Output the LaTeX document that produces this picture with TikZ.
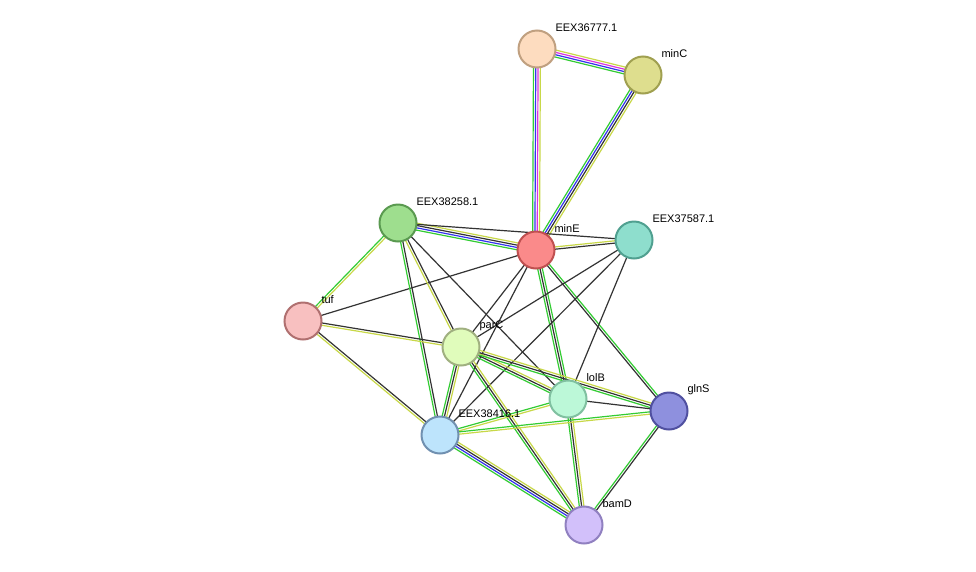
\documentclass[tikz,border=0pt]{standalone}
\usepackage{fontspec}
\setmainfont{Liberation Sans}
\usetikzlibrary{calc}
\definecolor{gn}{HTML}{33CC33}
\definecolor{bl}{HTML}{3333EE}
\definecolor{mg}{HTML}{DD33DD}
\definecolor{yl}{HTML}{C8D848}
\definecolor{bk}{HTML}{333333}
\newcommand\medge[4]{%
  \foreach \c [count=\i] in {#4} {%
    \pgfmathsetmacro\off{(\i-(#3+1)/2)*2.3}%
    \draw[\c, line width=1.2pt] ($(#1)!\off pt!90:(#2)$) -- ($(#2)!\off pt!-90:(#1)$);
  }}
\tikzset{prot/.style={circle, minimum size=37pt, inner sep=0pt, line width=2pt},
 lab/.style={anchor=west, font=\fontsize{11}{13}\selectfont}}
\begin{document}
\begin{tikzpicture}[x=1pt,y=-1pt]
\useasboundingbox (0,0) rectangle (976,571);
\fill[white] (0,0) rectangle (976,571);
\coordinate (A) at (537,49);
\coordinate (C) at (643,75);
\coordinate (S) at (398,223);
\coordinate (E) at (536,250);
\coordinate (P) at (634,240);
\coordinate (T) at (303,321);
\coordinate (R) at (461,347);
\coordinate (L) at (568,399);
\coordinate (G) at (669,411);
\coordinate (X) at (440,435);
\coordinate (B) at (584,525);
\medge{A}{C}{4}{gn,bl,mg,yl}
\medge{A}{E}{4}{gn,bl,mg,yl}
\medge{C}{E}{4}{gn,bl,bk,yl}
\medge{S}{E}{4}{gn,bl,bk,yl}
\medge{S}{P}{1}{bk}
\medge{E}{P}{2}{bk,yl}
\medge{S}{T}{2}{gn,yl}
\medge{E}{T}{1}{bk}
\medge{S}{R}{2}{yl,bk}
\medge{S}{L}{1}{bk}
\medge{S}{X}{2}{gn,bk}
\medge{E}{R}{1}{bk}
\medge{E}{L}{3}{gn,bk,gn}
\medge{E}{G}{2}{bk,gn}
\medge{E}{X}{1}{bk}
\medge{P}{R}{1}{bk}
\medge{P}{L}{1}{bk}
\medge{P}{X}{1}{bk}
\medge{T}{R}{2}{yl,bk}
\medge{T}{X}{2}{yl,bk}
\medge{R}{L}{3}{gn,bk,yl}
\medge{R}{G}{3}{gn,bk,yl}
\medge{R}{X}{3}{gn,bk,yl}
\medge{R}{B}{3}{gn,bk,yl}
\medge{L}{G}{1}{bk}
\medge{L}{X}{2}{gn,yl}
\medge{L}{B}{3}{gn,bk,yl}
\medge{G}{X}{2}{gn,yl}
\medge{G}{B}{2}{gn,bk}
\medge{X}{B}{4}{gn,bl,bk,yl}
\node[prot, fill={rgb,255:red,253;green,220;blue,191}, draw={rgb,255:red,192;green,160;blue,128}] (nA) at (A) {};
\node[prot, fill={rgb,255:red,222;green,222;blue,142}, draw={rgb,255:red,160;green,160;blue,80}] (nC) at (C) {};
\node[prot, fill={rgb,255:red,158;green,222;blue,142}, draw={rgb,255:red,90;green,154;blue,80}] (nS) at (S) {};
\node[prot, fill={rgb,255:red,250;green,138;blue,138}, draw={rgb,255:red,192;green,80;blue,80}] (nE) at (E) {};
\node[prot, fill={rgb,255:red,142;green,222;blue,205}, draw={rgb,255:red,80;green,160;blue,144}] (nP) at (P) {};
\node[prot, fill={rgb,255:red,248;green,192;blue,192}, draw={rgb,255:red,176;green,112;blue,112}] (nT) at (T) {};
\node[prot, fill={rgb,255:red,224;green,252;blue,187}, draw={rgb,255:red,160;green,176;blue,128}] (nR) at (R) {};
\node[prot, fill={rgb,255:red,188;green,248;blue,216}, draw={rgb,255:red,128;green,192;blue,160}] (nL) at (L) {};
\node[prot, fill={rgb,255:red,142;green,144;blue,222}, draw={rgb,255:red,80;green,80;blue,160}] (nG) at (G) {};
\node[prot, fill={rgb,255:red,189;green,228;blue,252}, draw={rgb,255:red,112;green,144;blue,176}] (nX) at (X) {};
\node[prot, fill={rgb,255:red,210;green,192;blue,250}, draw={rgb,255:red,144;green,128;blue,192}] (nB) at (B) {};
\node[lab] (lA) at ($(A)+(15,-21)$) {EEX36777.1};
\node[lab] (lC) at ($(C)+(15,-21)$) {minC};
\node[lab] (lS) at ($(S)+(15,-21)$) {EEX38258.1};
\node[lab] (lE) at ($(E)+(15,-21)$) {minE};
\node[lab] (lP) at ($(P)+(15,-21)$) {EEX37587.1};
\node[lab] (lT) at ($(T)+(15,-21)$) {tuf};
\node[lab] (lR) at ($(R)+(15,-21)$) {parC};
\node[lab] (lL) at ($(L)+(15,-21)$) {lolB};
\node[lab] (lG) at ($(G)+(15,-21)$) {glnS};
\node[lab] (lX) at ($(X)+(15,-21)$) {EEX38416.1};
\node[lab] (lB) at ($(B)+(15,-21)$) {bamD};
\end{tikzpicture}
\end{document}
